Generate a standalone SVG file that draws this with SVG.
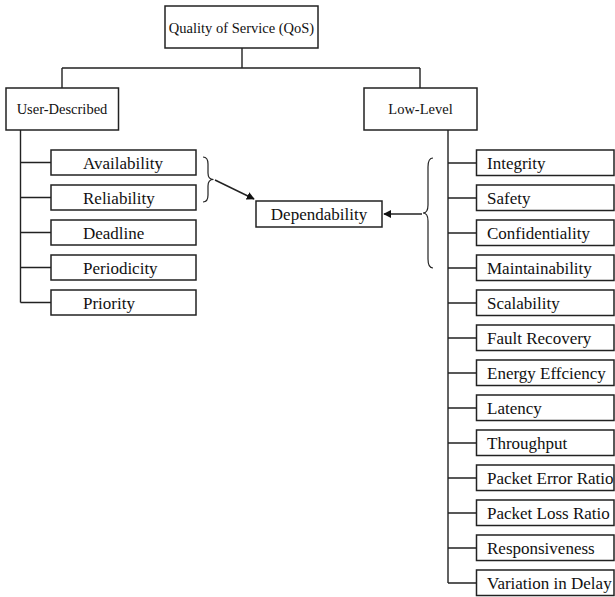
<svg xmlns="http://www.w3.org/2000/svg" width="615" height="597" viewBox="0 0 615 597">
  <style>
    .box { fill: #ffffff; stroke: #222222; stroke-width: 1.5; }
    .wire { fill: none; stroke: #222222; stroke-width: 1.4; }
    .brace { fill: none; stroke: #222222; stroke-width: 1.2; }
    .head { font-family: "Liberation Serif", "Times New Roman", serif; font-size: 14.5px; fill: #111111; text-anchor: middle; }
    .leaf { font-family: "Liberation Serif", "Times New Roman", serif; font-size: 17px; fill: #111111; }
    .mid { text-anchor: middle; }
  </style>
  <defs>
    <marker id="arrow" viewBox="0 0 10 10" refX="9" refY="5" markerWidth="8" markerHeight="8" markerUnits="userSpaceOnUse" orient="auto">
      <path d="M0,0 L10,5 L0,10 Z" fill="#111111"/>
    </marker>
  </defs>
  <rect width="615" height="597" fill="#ffffff"/>

  <!-- connectors -->
  <g id="connectors">
    <path class="wire" d="M242,48 V68 M62,68 H420 M62,68 V88 M420,68 V88"/>
    <!-- user-described trunk -->
    <path class="wire" d="M20.5,130 V302.5 M20.5,162.5 H51 M20.5,197.5 H51 M20.5,232.5 H51 M20.5,267.5 H51 M20.5,302.5 H51"/>
    <!-- low-level trunk -->
    <path class="wire" d="M448,130 V583 M448,163 H476.5 M448,198 H476.5 M448,233 H476.5 M448,268 H476.5 M448,303 H476.5 M448,338 H476.5 M448,373 H476.5 M448,408 H476.5 M448,443 H476.5 M448,478 H476.5 M448,513 H476.5 M448,548 H476.5 M448,583 H476.5"/>
    <!-- braces -->
    <path class="brace" d="M203,157 Q208,157 208,164 L208,173 Q208,179.5 213.5,179.5 Q208,179.5 208,186 L208,195 Q208,202 203,202"/>
    <path class="brace" d="M433,158 Q428,158 428,167 L428,205 Q428,213 423,213 Q428,213 428,221 L428,259 Q428,268 433,268"/>
    <!-- arrows to Dependability -->
    <line class="wire" x1="215" y1="180" x2="254" y2="199" marker-end="url(#arrow)"/>
    <line class="wire" x1="422" y1="214" x2="384" y2="214" marker-end="url(#arrow)"/>
  </g>

  <g id="qos">
    <rect class="box" x="165" y="6" width="153" height="42"/>
    <text class="head" x="241.5" y="32.5">Quality of Service (QoS)</text>
  </g>
  <g id="user-described">
    <rect class="box" x="6" y="88" width="112.5" height="42"/>
    <text class="head" x="62" y="114">User-Described</text>
  </g>
  <g id="low-level">
    <rect class="box" x="364" y="88" width="113" height="42"/>
    <text class="head" x="420.5" y="114">Low-Level</text>
  </g>
  <g id="dependability">
    <rect class="box" x="256" y="201" width="126" height="26"/>
    <text class="leaf mid" x="319" y="220">Dependability</text>
  </g>

  <!-- user-described children -->
  <g id="availability"><rect class="box" x="51" y="150" width="145" height="25"/><text class="leaf" x="83" y="169">Availability</text></g>
  <g id="reliability"><rect class="box" x="51" y="185" width="145" height="25"/><text class="leaf" x="83" y="204">Reliability</text></g>
  <g id="deadline"><rect class="box" x="51" y="220" width="145" height="25"/><text class="leaf" x="83" y="239">Deadline</text></g>
  <g id="periodicity"><rect class="box" x="51" y="255" width="145" height="25"/><text class="leaf" x="83" y="274">Periodicity</text></g>
  <g id="priority"><rect class="box" x="51" y="290" width="145" height="25"/><text class="leaf" x="83" y="309">Priority</text></g>

  <!-- low-level children -->
  <g id="integrity"><rect class="box" x="476.5" y="150" width="137.5" height="25.5"/><text class="leaf" x="487" y="169">Integrity</text></g>
  <g id="safety"><rect class="box" x="476.5" y="185" width="137.5" height="25.5"/><text class="leaf" x="487" y="204">Safety</text></g>
  <g id="confidentiality"><rect class="box" x="476.5" y="220" width="137.5" height="25.5"/><text class="leaf" x="487" y="239">Confidentiality</text></g>
  <g id="maintainability"><rect class="box" x="476.5" y="255" width="137.5" height="25.5"/><text class="leaf" x="487" y="274">Maintainability</text></g>
  <g id="scalability"><rect class="box" x="476.5" y="290" width="137.5" height="25.5"/><text class="leaf" x="487" y="309">Scalability</text></g>
  <g id="fault-recovery"><rect class="box" x="476.5" y="325" width="137.5" height="25.5"/><text class="leaf" x="487" y="344">Fault Recovery</text></g>
  <g id="energy-efficiency"><rect class="box" x="476.5" y="360" width="137.5" height="25.5"/><text class="leaf" x="487" y="379">Energy Effciency</text></g>
  <g id="latency"><rect class="box" x="476.5" y="395" width="137.5" height="25.5"/><text class="leaf" x="487" y="414">Latency</text></g>
  <g id="throughput"><rect class="box" x="476.5" y="430" width="137.5" height="25.5"/><text class="leaf" x="487" y="449">Throughput</text></g>
  <g id="packet-error-ratio"><rect class="box" x="476.5" y="465" width="137.5" height="25.5"/><text class="leaf" x="487" y="484">Packet Error Ratio</text></g>
  <g id="packet-loss-ratio"><rect class="box" x="476.5" y="500" width="137.5" height="25.5"/><text class="leaf" x="487" y="519">Packet Loss Ratio</text></g>
  <g id="responsiveness"><rect class="box" x="476.5" y="535" width="137.5" height="25.5"/><text class="leaf" x="487" y="554">Responsiveness</text></g>
  <g id="variation-in-delay"><rect class="box" x="476.5" y="570" width="137.5" height="25.5"/><text class="leaf" x="487" y="589">Variation in Delay</text></g>
</svg>
